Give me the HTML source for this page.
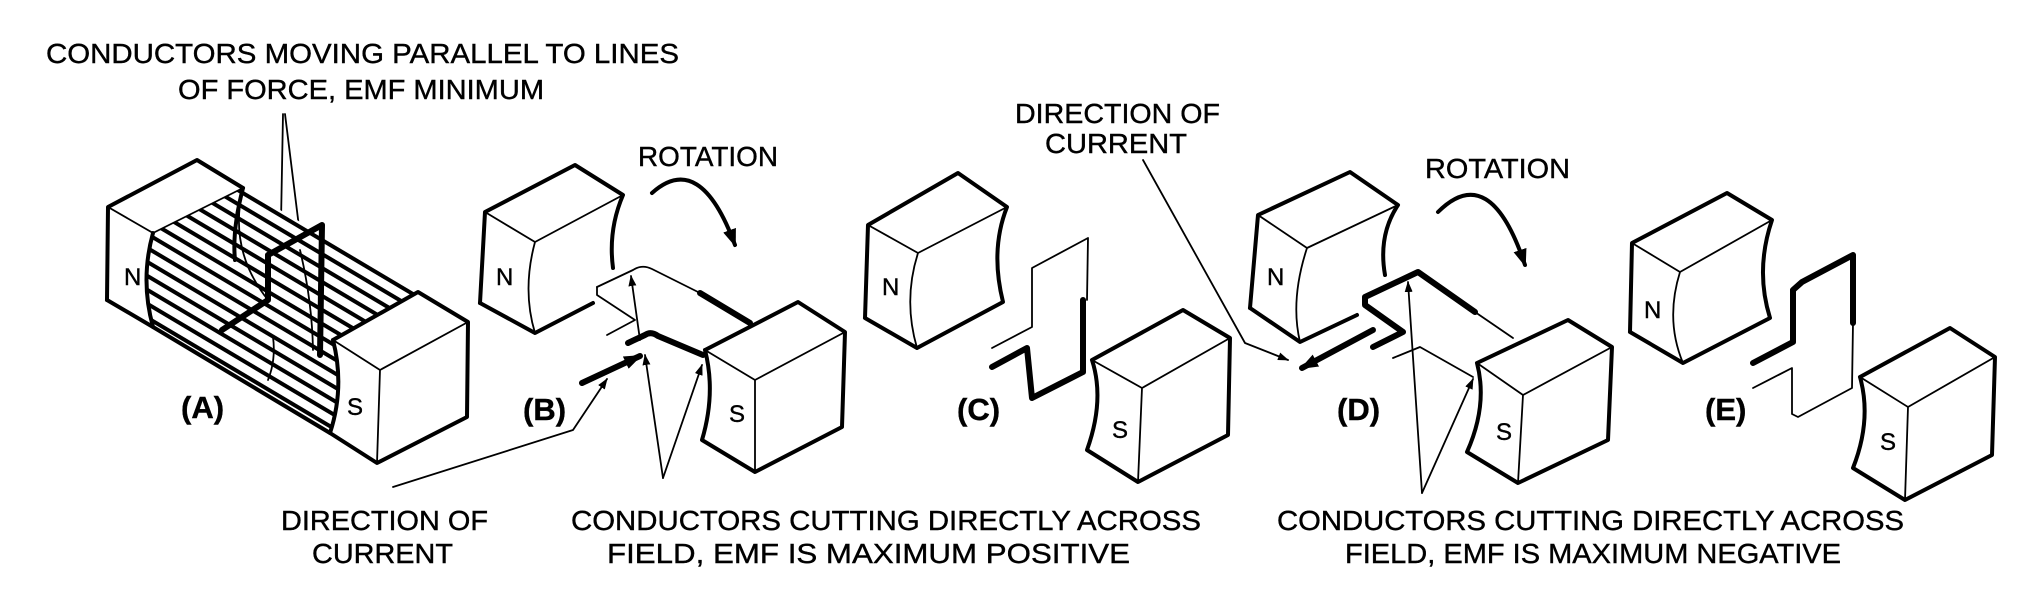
<!DOCTYPE html>
<html><head><meta charset="utf-8"><style>
html,body{margin:0;padding:0;background:#fff;}
svg{display:block;}
text{font-family:"Liberation Sans",Arial,sans-serif;fill:#000;stroke:#000;stroke-width:0.4;}
.k{stroke:#000;stroke-width:4;fill:none;stroke-linejoin:round;stroke-linecap:round;}
.t{stroke:#000;stroke-width:1.8;fill:none;stroke-linejoin:round;stroke-linecap:round;}
.h{stroke:#000;stroke-width:6;fill:none;stroke-linejoin:round;stroke-linecap:round;}
.lab{font-size:31px;font-weight:bold;}
.pol{font-size:24px;}
.cap{font-size:28px;}
</style></head><body>
<svg width="2038" height="607" viewBox="0 0 2038 607" xmlns="http://www.w3.org/2000/svg">
<defs>
<marker id="ah" markerWidth="12" markerHeight="12" refX="10" refY="5" orient="auto" markerUnits="userSpaceOnUse" viewBox="0 0 12 10">
<path d="M0,1 L11,5 L0,9 Z" fill="#000"/></marker>
<marker id="ahb" markerWidth="18" markerHeight="16" refX="14" refY="6" orient="auto" markerUnits="userSpaceOnUse" viewBox="0 0 16 12">
<path d="M0,0 L16,6 L0,12 Z" fill="#000"/></marker>
<pattern id="hat" patternUnits="userSpaceOnUse" width="40" height="12" patternTransform="rotate(30.7)">
<rect width="40" height="12" fill="#fff"/><line x1="0" y1="6" x2="40" y2="6" stroke="#000" stroke-width="4"/></pattern>
</defs>

<text class="cap" x="46" y="63" textLength="633" lengthAdjust="spacingAndGlyphs">CONDUCTORS MOVING PARALLEL TO LINES</text>
<text class="cap" x="178" y="99" textLength="366" lengthAdjust="spacingAndGlyphs">OF FORCE, EMF MINIMUM</text>
<line class="t" x1="283" y1="114" x2="281" y2="222"/>
<line class="t" x1="285" y1="114" x2="300" y2="235"/>

<!-- A -->
<path d="M243,188 L418,292 L333,340 Q345,387 330,433 L153,327 Q140,280 153,233 Z" fill="url(#hat)"/>
<path class="k" d="M107,300 L108,207 L197,160 L243,188"/>
<path class="t" d="M108,207 L153,233 L243,188"/>
<path class="k" d="M107,300 L153,327"/>
<path class="k" d="M153,233 Q140,280 153,327 L330,433"/>
<path class="k" d="M243,188 Q232,230 235,260"/>
<path class="t" d="M243,188 Q228,250 268,300"/>
<path class="t" d="M300,250 Q312,300 313,350"/>
<path class="t" d="M273,337 Q276,360 268,380"/>
<path class="h" d="M222,330 L268,300 L268,255 L322,225 L320,355" stroke-width="5"/>
<path d="M333,340 L418,292 L468,322 L467,417 L377,463 L330,433 Q345,387 333,340 Z" fill="#fff"/>
<path class="k" d="M333,340 L418,292 L468,322 L467,417 L377,463 L330,433 Q345,387 333,340"/>
<path class="t" d="M333,340 L380,370 L468,322 M380,370 L377,463"/>
<text class="pol" x="124" y="285">N</text>
<text class="pol" x="347" y="415">S</text>
<text class="lab" x="181" y="418">(A)</text>

<!-- B -->
<path class="k" d="M480,303 L485,212 L575,165 L623,195 Q608,230 613,268"/>
<path class="k" d="M480,303 L535,333 L593,303"/>
<path class="t" d="M485,212 L535,242 L623,195 M535,242 Q522,290 535,333"/>
<path class="t" d="M597,287 L597,295 L635,320 L607,335"/>
<path class="t" d="M597,287 L633,270 Q642,264 652,269 L700,293"/>
<path class="h" d="M700,293 L750,323" stroke-width="5"/>
<path class="h" d="M628,343 L645,335 Q651,331 658,336 L703,355" stroke-width="5"/>
<path class="h" d="M582,383 L640,356" marker-end="url(#ahb)" stroke-width="5"/>
<path class="t" d="M640,340 L631,276" marker-end="url(#ah)"/>
<path class="t" d="M663,478 L645,355" marker-end="url(#ah)"/>
<path class="t" d="M663,478 L702,365" marker-end="url(#ah)"/>
<path class="t" d="M393,487 L573,430 L607,379" marker-end="url(#ah)"/>
<path d="M705,350 L798,302 L845,332 L842,427 L755,472 L702,440 Q716,393 705,350 Z" fill="#fff"/>
<path class="k" d="M705,350 L798,302 L845,332 L842,427 L755,472 L702,440 Q716,393 705,350"/>
<path class="t" d="M705,350 L755,380 L845,332 M755,380 L755,472"/>
<text class="pol" x="496" y="285">N</text>
<text class="pol" x="729" y="422">S</text>
<text class="lab" x="523" y="420">(B)</text>
<text class="cap" x="638" y="166" font-size="26" textLength="140" lengthAdjust="spacingAndGlyphs">ROTATION</text>
<path class="k" d="M652,193 Q700,150 735,245" stroke-width="3" marker-end="url(#ahb)"/>

<!-- C -->
<path class="k" d="M865,318 L868,225 L958,173 L1007,207 Q990,250 1003,302 L917,348 L865,318"/>
<path class="t" d="M868,225 L918,253 L1007,207 M918,253 Q903,300 917,348"/>
<path class="t" d="M992,348 L1032,327 L1032,268 L1088,238 L1087,300"/>
<path class="h" d="M992,367 L1027,348 L1032,398 L1083,372 L1083,300" stroke-width="5"/>
<path d="M1092,360 L1183,310 L1230,338 L1228,435 L1138,482 L1087,450 Q1105,400 1092,360 Z" fill="#fff"/>
<path class="k" d="M1092,360 L1183,310 L1230,338 L1228,435 L1138,482 L1087,450 Q1105,400 1092,360"/>
<path class="t" d="M1092,360 L1142,388 L1230,338 M1142,388 L1138,482"/>
<text class="pol" x="882" y="295">N</text>
<text class="pol" x="1112" y="438">S</text>
<text class="lab" x="957" y="420">(C)</text>
<text class="cap" x="1015" y="123" font-size="26" textLength="205" lengthAdjust="spacingAndGlyphs">DIRECTION OF</text>
<text class="cap" x="1045" y="153" font-size="26" textLength="142" lengthAdjust="spacingAndGlyphs">CURRENT</text>
<path class="t" d="M1143,160 L1245,343 L1288,360" marker-end="url(#ah)"/>

<!-- D -->
<path class="k" d="M1250,308 L1258,215 L1350,172 L1398,205 Q1378,235 1385,275"/>
<path class="k" d="M1250,308 L1300,342 L1357,315"/>
<path class="t" d="M1258,215 L1307,248 L1398,205 M1307,248 Q1290,300 1300,342"/>
<path class="h" d="M1373,347 L1403,332 L1365,305 L1365,297 L1418,272 L1475,312" stroke-width="6"/>
<path class="t" d="M1475,312 L1513,338"/>
<path class="h" d="M1373,330 L1302,368" stroke-width="5" marker-end="url(#ahb)"/>
<path class="t" d="M1393,358 L1420,347 L1473,377"/>
<path class="t" d="M1422,493 L1408,282" marker-end="url(#ah)"/>
<path class="t" d="M1422,493 L1473,379" marker-end="url(#ah)"/>
<path d="M1477,363 L1568,320 L1612,347 L1608,440 L1518,483 L1467,452 Q1488,405 1477,363 Z" fill="#fff"/>
<path class="k" d="M1477,363 L1568,320 L1612,347 L1608,440 L1518,483 L1467,452 Q1488,405 1477,363"/>
<path class="t" d="M1477,363 L1523,395 L1612,347 M1523,395 L1518,483"/>
<text class="pol" x="1267" y="285">N</text>
<text class="pol" x="1496" y="440">S</text>
<text class="lab" x="1337" y="420">(D)</text>
<text class="cap" x="1425" y="178" font-size="26" textLength="145" lengthAdjust="spacingAndGlyphs">ROTATION</text>
<path class="k" d="M1438,212 Q1490,160 1525,265" stroke-width="3" marker-end="url(#ahb)"/>

<!-- E -->
<path class="k" d="M1630,332 L1632,243 L1727,193 L1772,220 Q1755,270 1770,318 L1683,363 L1630,332"/>
<path class="t" d="M1632,243 L1680,272 L1772,220 M1680,272 Q1665,320 1683,363"/>
<path class="h" d="M1753,363 L1793,342 L1793,290 L1802,282 L1853,255 L1853,323" stroke-width="6"/>
<path class="t" d="M1853,323 L1852,388 L1798,417 L1792,414 L1792,368 L1753,388"/>
<path d="M1860,377 L1950,328 L1995,357 L1992,455 L1905,500 L1853,468 Q1872,420 1860,377 Z" fill="#fff"/>
<path class="k" d="M1860,377 L1950,328 L1995,357 L1992,455 L1905,500 L1853,468 Q1872,420 1860,377"/>
<path class="t" d="M1860,377 L1908,407 L1995,357 M1908,407 L1905,500"/>
<text class="pol" x="1644" y="318">N</text>
<text class="pol" x="1880" y="450">S</text>
<text class="lab" x="1705" y="420">(E)</text>

<!-- bottom captions -->
<text class="cap" x="281" y="530" textLength="207" lengthAdjust="spacingAndGlyphs">DIRECTION OF</text>
<text class="cap" x="312" y="563" textLength="141" lengthAdjust="spacingAndGlyphs">CURRENT</text>
<text class="cap" x="571" y="530" textLength="630" lengthAdjust="spacingAndGlyphs">CONDUCTORS CUTTING DIRECTLY ACROSS</text>
<text class="cap" x="607" y="563" textLength="523" lengthAdjust="spacingAndGlyphs">FIELD, EMF IS MAXIMUM POSITIVE</text>
<text class="cap" x="1277" y="530" textLength="627" lengthAdjust="spacingAndGlyphs">CONDUCTORS CUTTING DIRECTLY ACROSS</text>
<text class="cap" x="1345" y="563" textLength="496" lengthAdjust="spacingAndGlyphs">FIELD, EMF IS MAXIMUM NEGATIVE</text>
</svg>
</body></html>
